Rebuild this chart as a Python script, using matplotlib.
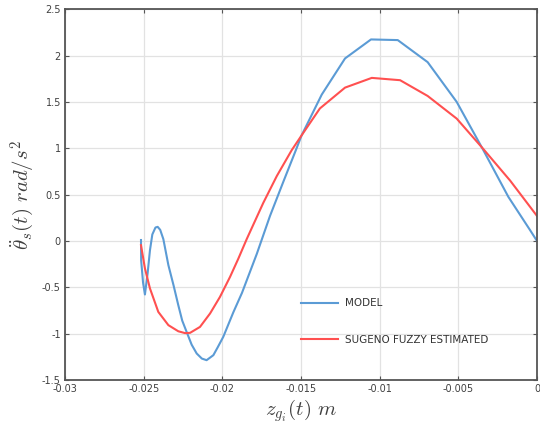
import matplotlib
matplotlib.use("Agg")
import matplotlib.pyplot as plt

plt.rcParams['mathtext.fontset'] = 'cm'

model_x = [-0.02517, -0.02516, -0.02504, -0.02492, -0.02475, -0.02460, -0.02445, -0.02425,
           -0.02411, -0.02395, -0.02375, -0.02343, -0.02310, -0.02280, -0.02255, -0.02227,
           -0.02195, -0.02163, -0.02130, -0.02100, -0.02057, -0.02030, -0.01994, -0.01930,
           -0.01875, -0.01781, -0.01697, -0.01612, -0.01535, -0.01496, -0.01368, -0.01220,
           -0.01055, -0.00885, -0.00695, -0.00510, -0.00341, -0.00182, -0.00044, 0.0]
model_y = [0.01, -0.21, -0.45, -0.578, -0.35, -0.10, 0.07, 0.145,
           0.152, 0.12, 0.02, -0.261, -0.48, -0.693, -0.86, -0.982,
           -1.12, -1.215, -1.27, -1.287, -1.233, -1.15, -1.035, -0.77,
           -0.56, -0.14, 0.27, 0.64, 0.97, 1.14, 1.58, 1.97,
           2.175, 2.168, 1.93, 1.50, 0.98, 0.476, 0.117, 0.0]

fuzzy_x = [-0.02517, -0.02492, -0.02460, -0.02407, -0.02343, -0.02280, -0.02237, -0.02205,
           -0.02142, -0.02078, -0.02015, -0.01951, -0.01898, -0.01845, -0.01740, -0.01654,
           -0.01559, -0.01496, -0.01380, -0.01220, -0.01050, -0.00870, -0.00695, -0.00510,
           -0.00340, -0.00170, 0.0]
fuzzy_y = [-0.046, -0.297, -0.513, -0.766, -0.909, -0.975, -0.995, -0.992,
           -0.928, -0.783, -0.604, -0.388, -0.19, 0.02, 0.41, 0.70,
           0.98, 1.14, 1.43, 1.655, 1.76, 1.735, 1.565, 1.32,
           0.99, 0.65, 0.27]

x_ticks = [-0.03, -0.025, -0.02, -0.015, -0.01, -0.005, 0]
x_ticklabels = ['-0.03', '-0.025', '-0.02', '-0.015', '-0.01', '-0.005', '0']
y_ticks = [-1.5, -1, -0.5, 0, 0.5, 1, 1.5, 2, 2.5]
y_ticklabels = ['-1.5', '-1', '-0.5', '0', '0.5', '1', '1.5', '2', '2.5']

fig = plt.figure(figsize=(5.4, 4.24), dpi=100)
ax = fig.add_axes([0.1204, 0.104, 0.8740, 0.874])

ax.plot(model_x, model_y, color='#5B9BD5', lw=1.5, label='MODEL')
ax.plot(fuzzy_x, fuzzy_y, color='#FF5050', lw=1.5, label='SUGENO FUZZY ESTIMATED')

ax.set_xlim(-0.03, 0)
ax.set_ylim(-1.5, 2.5)
ax.set_xticks(x_ticks)
ax.set_xticklabels(x_ticklabels)
ax.set_yticks(y_ticks)
ax.set_yticklabels(y_ticklabels)
ax.grid(True, color='#e2e2e2', lw=0.9)
ax.set_axisbelow(True)
ax.tick_params(direction='in', top=True, right=True, length=3, width=0.8,
               color='#555555', labelsize=7, labelcolor='#404040', pad=3)
for s in ax.spines.values():
    s.set_color('#555555')
    s.set_linewidth(1.3)

ax.set_xlabel(r'$z_{g_i}(t)\ m$', fontsize=15, color='#404040', labelpad=2)
ax.set_ylabel(r'$\ddot{\theta}_s(t)\ rad/s^2$', fontsize=15, color='#404040', labelpad=4)

leg = ax.legend(loc='upper left', bbox_to_anchor=(0.48, 0.245), frameon=False,
                fontsize=7.5, handlelength=3.6, labelspacing=2.55, handletextpad=0.6)
for t in leg.get_texts():
    t.set_color('#333333')

fig.savefig('out.png', dpi=100)
